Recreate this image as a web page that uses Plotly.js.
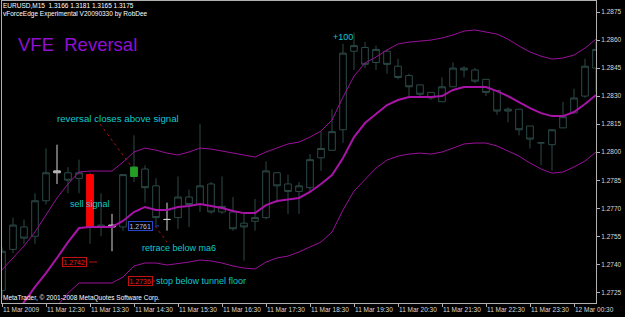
<!DOCTYPE html>
<html><head><meta charset="utf-8">
<script src="https://cdn.plot.ly/plotly-3.0.1.min.js"></script>
<style>html,body{margin:0;padding:0;background:#000;}#chart{width:625px;height:317px;}</style>
</head><body><div id="chart"></div>
<script>
// ---- data (EURUSD M15, 11 Mar 2009 11:30 onwards) ----
const opens  = [1.2726,1.2748,1.2760,1.2755,1.2774,1.2789,1.2789,1.2786,1.2788,1.2760,1.2760,1.2760,1.2787,1.2791,1.2782,1.2764,1.2765,1.2776,1.2772,1.2783,1.2768,1.2768,1.2762,1.2763,1.2765,1.2789,1.2783,1.2779,1.2781,1.2797,1.2801,1.2812,1.2854,1.2856,1.2848,1.2854,1.2846,1.2841,1.2836,1.2832,1.2827,1.2835,1.2845,1.2844,1.2839,1.2833,1.2823,1.2823,1.2814,1.2805,1.2804,1.2813,1.2821,1.2830,1.2845];
const highs  = [1.2749,1.2765,1.2764,1.2778,1.2802,1.2804,1.2792,1.2796,1.2789,1.2778,1.2767,1.2788,1.2809,1.2793,1.2786,1.2773,1.2787,1.2780,1.2815,1.2784,1.2787,1.2776,1.2767,1.2775,1.2795,1.2789,1.2788,1.2784,1.2799,1.2811,1.2823,1.2858,1.2864,1.2859,1.2857,1.2855,1.2850,1.2842,1.2836,1.2832,1.2840,1.2848,1.2846,1.2845,1.2839,1.2833,1.2824,1.2823,1.2814,1.2805,1.2812,1.2827,1.2834,1.2850,1.2859];
const lows   = [1.2722,1.2746,1.2751,1.2751,1.2772,1.2783,1.2778,1.2778,1.2751,1.2755,1.2747,1.2758,1.2784,1.2773,1.2761,1.2758,1.2759,1.2760,1.2768,1.2767,1.2767,1.2758,1.2742,1.2758,1.2764,1.2773,1.2767,1.2767,1.2779,1.2790,1.2801,1.2805,1.2844,1.2845,1.2844,1.2842,1.2839,1.2830,1.2830,1.2828,1.2827,1.2835,1.2840,1.2837,1.2830,1.2820,1.2816,1.2809,1.2802,1.2793,1.2790,1.2813,1.2821,1.2829,1.2832];
const closes = [1.2747,1.2761,1.2754,1.2774,1.2789,1.2790,1.2785,1.2789,1.2760,1.2761,1.2761,1.2788,1.2792,1.2781,1.2765,1.2764,1.2776,1.2772,1.2782,1.2768,1.2771,1.2759,1.2760,1.2765,1.2790,1.2782,1.2779,1.2782,1.2796,1.2802,1.2811,1.2853,1.2857,1.2847,1.2855,1.2847,1.2840,1.2835,1.2831,1.2829,1.2835,1.2845,1.2844,1.2838,1.2832,1.2822,1.2822,1.2812,1.2807,1.2805,1.2812,1.2819,1.2829,1.2846,1.2855];

const upperBand  = [1.27370,1.27434,1.27498,1.27573,1.27664,1.27755,1.27830,1.27894,1.27899,1.27899,1.27899,1.27947,1.28001,1.28022,1.28011,1.27995,1.27985,1.28001,1.28022,1.28017,1.28006,1.27995,1.27985,1.27974,1.28001,1.28022,1.28044,1.28054,1.28081,1.28113,1.28172,1.28295,1.28407,1.28477,1.28509,1.28547,1.28579,1.28589,1.28595,1.28600,1.28611,1.28627,1.28648,1.28654,1.28643,1.28632,1.28605,1.28568,1.28536,1.28514,1.28498,1.28504,1.28520,1.28557,1.28605];
const middleBand = [1.27022,1.27113,1.27198,1.27279,1.27353,1.27434,1.27519,1.27594,1.27600,1.27600,1.27600,1.27632,1.27680,1.27707,1.27691,1.27691,1.27707,1.27712,1.27723,1.27712,1.27701,1.27685,1.27674,1.27674,1.27717,1.27739,1.27749,1.27755,1.27787,1.27830,1.27878,1.27969,1.28081,1.28156,1.28204,1.28252,1.28279,1.28295,1.28295,1.28295,1.28300,1.28333,1.28349,1.28349,1.28349,1.28327,1.28300,1.28268,1.28236,1.28209,1.28193,1.28193,1.28215,1.28258,1.28306];
const lowerBand  = [1.26781,1.26861,1.26942,1.27022,1.27091,1.27177,1.27246,1.27300,1.27300,1.27300,1.27300,1.27332,1.27391,1.27407,1.27407,1.27396,1.27402,1.27412,1.27423,1.27418,1.27407,1.27391,1.27380,1.27375,1.27412,1.27434,1.27444,1.27466,1.27493,1.27519,1.27573,1.27691,1.27792,1.27851,1.27915,1.27958,1.27979,1.27990,1.27995,1.27990,1.28001,1.28022,1.28044,1.28049,1.28049,1.28033,1.28006,1.27979,1.27942,1.27910,1.27888,1.27894,1.27921,1.27953,1.28001];

const whiteBars = [5, 10, 15];
const sellBar = [8];
const reversalBar = [12];

const xTickBars   = [0,4,8,12,16,20,24,28,32,36,40,44,48,52];
const xTickLabels = ["11 Mar 2009","11 Mar 12:30","11 Mar 13:30","11 Mar 14:30","11 Mar 15:30","11 Mar 16:30","11 Mar 17:30","11 Mar 18:30","11 Mar 19:30","11 Mar 20:30","11 Mar 21:30","11 Mar 22:30","11 Mar 23:30","12 Mar 00:30"];
const yTickVals = [1.2725,1.2740,1.2755,1.2770,1.2785,1.2800,1.2815,1.2830,1.2845,1.2860,1.2875];

// ---- build ----
const bars = opens.map((_, i) => i);
function pick(idx){ return {x: idx.map(i=>bars[i]), open: idx.map(i=>opens[i]), high: idx.map(i=>highs[i]), low: idx.map(i=>lows[i]), close: idx.map(i=>closes[i])}; }
const normalIdx = bars.filter(i => !whiteBars.includes(i));
const SLATE = '#2c4a48';
function candle(d, line, fill){
  return Object.assign({type:'candlestick', hoverinfo:'skip', showlegend:false,
    increasing:{line:{color:line,width:1}, fillcolor:fill},
    decreasing:{line:{color:line,width:1}, fillcolor:fill}}, d);
}
const nd = pick(normalIdx);
const wd = pick(whiteBars);
function bodyOnly(idx){ const d = pick(idx); d.high = d.open.map((o,k)=>Math.max(o,d.close[k])); d.low = d.open.map((o,k)=>Math.min(o,d.close[k])); return d; }

const traces = [
  candle(nd, SLATE, '#000000'),
  candle(wd, '#d4d4d4', '#000000'),
  candle(bodyOnly(sellBar), '#ff0000', '#ff0000'),
  candle(bodyOnly(reversalBar), '#24a024', '#24a024'),
  {type:'scatter', mode:'lines', x:bars, y:upperBand, line:{color:'#9a109a', width:1}, hoverinfo:'skip', showlegend:false},
  {type:'scatter', mode:'lines', x:bars, y:lowerBand, line:{color:'#9a109a', width:1}, hoverinfo:'skip', showlegend:false},
  {type:'scatter', mode:'lines', x:bars, y:middleBand, line:{color:'#a814a8', width:2}, hoverinfo:'skip', showlegend:false}
];

const PL=2, PR=596, PT=1, PB=303;
const fx = x => (x-PL)/(PR-PL);
const fy = y => (PB-y)/(PB-PT);
const FONT = 'Liberation Sans, Arial, sans-serif';
const CYAN = '#10c8cc';
function txt(text, x, y, size, color, extra){
  return Object.assign({text:text, xref:'paper', yref:'paper', x:fx(x), y:fy(y), xanchor:'left', yanchor:'middle', showarrow:false, font:{family:FONT, size:size, color:color}, borderpad:0}, extra||{});
}
const annotations = [
  txt('EURUSD,M15  1.3166 1.3181 1.3165 1.3175', 2, 5.5, 6.5, '#ffffff', {bgcolor:'#000'}),
  txt('vForceEdge Experimental V20090330 by RobDee', 2, 13.5, 6.5, '#ffffff', {bgcolor:'#000'}),
  txt('VFE  Reversal', 17, 44.5, 18.5, '#9010d0'),
  txt('reversal closes above signal', 56, 118, 9.7, CYAN),
  txt('sell signal', 69, 204, 9, CYAN),
  txt('retrace below ma6', 141, 248, 9, CYAN),
  txt('stop below tunnel floor', 155, 281, 9, CYAN),
  txt('+100', 332, 37, 9, CYAN),
  txt('1.2761', 128, 225.5, 7, '#b8c0f0', {bordercolor:'#2848c8', borderwidth:1, borderpad:0.5, bgcolor:'#000'}),
  txt('1.2742', 62, 261.5, 7, '#e82020', {bordercolor:'#c01010', borderwidth:1, borderpad:0.5, bgcolor:'#000'}),
  txt('1.2736', 128, 281, 7, '#e82020', {bordercolor:'#c01010', borderwidth:1, borderpad:0.5, bgcolor:'#000'}),
  txt('MetaTrader, © 2001-2008 MetaQuotes Software Corp.', 2, 297.5, 6.5, '#ffffff')
];
function seg(x0,y0,x1,y1,color,dash){ return {type:'line', xref:'paper', yref:'paper', x0:fx(x0), y0:fy(y0), x1:fx(x1), y1:fy(y1), line:{color:color, width:1, dash:dash||'solid'}}; }
const shapes = [
  seg(100,124,131,166,'#a01010','dot'),
  seg(155,226,159,226,'#2848c8'),
  seg(155,226,167,242,'#a01010','dot'),
  seg(89,262,97,262,'#c01010'),
  seg(150,281,155,281,'#c01010')
];

const layout = {
  width:625, height:317,
  margin:{l:PL, r:625-PR, t:PT, b:317-PB, pad:0},
  paper_bgcolor:'#000000', plot_bgcolor:'#000000',
  showlegend:false, boxgap:0.4, boxgroupgap:0, boxmode:'overlay',
  xaxis:{range:[0,54], tickvals:xTickBars, ticktext:xTickLabels, ticks:'outside', ticklen:3, tickcolor:'#b0b0b0',
    tickangle:0, ticklabelposition:'outside right', tickfont:{family:FONT, size:6.5, color:'#d8d8d8'},
    showline:true, mirror:true, linecolor:'#b0b0b0', linewidth:1, showgrid:false, zeroline:false,
    rangeslider:{visible:false}, fixedrange:true, automargin:false},
  yaxis:{range:[1.27193,1.28809], side:'right', tickvals:yTickVals, ticktext:yTickVals.map(v=>v.toFixed(4)),
    ticks:'outside', ticklen:3, tickcolor:'#b0b0b0', tickfont:{family:FONT, size:6.5, color:'#d8d8d8'},
    showline:true, mirror:true, linecolor:'#b0b0b0', linewidth:1, showgrid:false, zeroline:false, fixedrange:true},
  annotations:annotations, shapes:shapes
};
Plotly.newPlot('chart', traces, layout, {staticPlot:true, displayModeBar:false});
</script></body></html>
